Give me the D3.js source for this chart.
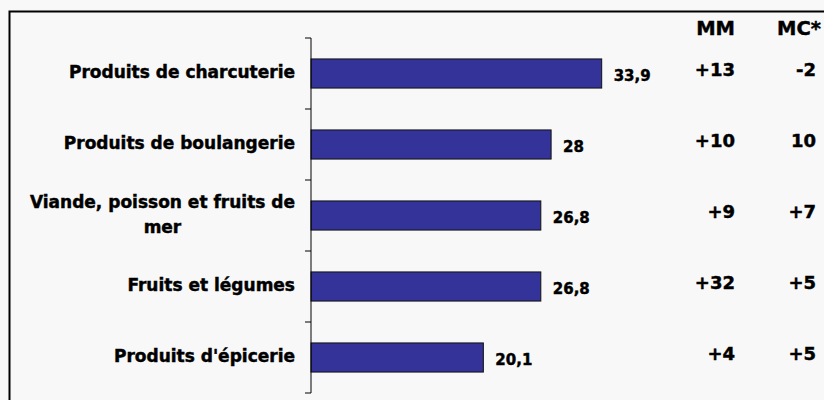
<html>
<head>
<meta charset="utf-8">
<script src="https://d3js.org/d3.v7.min.js"></script>
<style>
body { margin: 0; background: #f8f8f8; }
svg { display: block; }
text { font-family: 'DejaVu Sans', Arial, sans-serif; font-weight: bold; fill: #000; stroke: #000; stroke-width: 0.45px; }
</style>
</head>
<body>
<div id="chart"></div>
<script>
// data
var categories = ["Produits de charcuterie", "Produits de boulangerie", "Viande, poisson et fruits de|mer", "Fruits et légumes", "Produits d'épicerie"];
var values = [33.9, 28, 26.8, 26.8, 20.1];
var valueLabels = ["33,9", "28", "26,8", "26,8", "20,1"];
var mmValues = ["+13", "+10", "+9", "+32", "+4"];
var mcValues = ["-2", "10", "+7", "+5", "+5"];
var columnHeaders = ["MM", "MC*"];

var W = 824, H = 400;
var svg = d3.select("#chart").append("svg")
    .attr("width", W).attr("height", H);

svg.append("rect").attr("width", W).attr("height", H).attr("fill", "#f8f8f8");

// frame (runs off the right and bottom)
svg.append("rect")
    .attr("x", 9.5).attr("y", 11.5)
    .attr("width", W + 20).attr("height", H + 20)
    .attr("fill", "none").attr("stroke", "#000").attr("stroke-width", 2);

var x = d3.scaleLinear().domain([0, 40]).range([311, 654]);
var y = d3.scaleBand().domain(categories).range([38, 393])
    .paddingInner(0.59).paddingOuter(0.295);

// bars
svg.selectAll(".bar")
    .data(values)
  .enter().append("rect")
    .attr("class", "bar")
    .attr("x", x(0))
    .attr("y", function(d, i) { return y(categories[i]); })
    .attr("width", function(d) { return x(d) - x(0); })
    .attr("height", y.bandwidth())
    .attr("fill", "#333399")
    .attr("stroke", "#111")
    .attr("stroke-width", 1);

// axis line + ticks at band boundaries
var step = y.step();
var r0 = y.range()[0];
svg.append("line")
    .attr("x1", x(0)).attr("x2", x(0))
    .attr("y1", r0).attr("y2", y.range()[1])
    .attr("stroke", "#000").attr("stroke-width", 1);
svg.selectAll(".tick")
    .data(d3.range(categories.length + 1))
  .enter().append("line")
    .attr("x1", x(0) - 6).attr("x2", x(0))
    .attr("y1", function(i) { return r0 + i * step; })
    .attr("y2", function(i) { return r0 + i * step; })
    .attr("stroke", "#000").attr("stroke-width", 1);

// category labels
categories.forEach(function(c, i) {
  var lines = c.split("|");
  var cy = y(c) + y.bandwidth() / 2;
  var t = svg.append("text")
      .attr("font-size", "17px");
  var lineH = 25;
  var top = cy - 1 - (lines.length - 1) * lineH / 2;
  lines.forEach(function(l, j) {
    t.append("tspan").attr("y", top + j * lineH).attr("dy", "0.35em").text(l);
  });
  if (lines.length == 1) {
    t.attr("text-anchor", "end").selectAll("tspan").attr("x", 295);
  } else {
    var wmax = 0;
    t.selectAll("tspan").each(function() { wmax = Math.max(wmax, this.getComputedTextLength()); });
    t.attr("text-anchor", "middle").selectAll("tspan").attr("x", 295 - wmax / 2);
  }
});

// value labels
svg.selectAll(".val")
    .data(values)
  .enter().append("text")
    .attr("class", "val")
    .attr("font-size", "15px")
    .attr("x", function(d) { return x(d) + 12; })
    .attr("y", function(d, i) { return y(categories[i]) + y.bandwidth() / 2 + 2; })
    .attr("dy", "0.35em")
    .text(function(d, i) { return valueLabels[i]; });

// MM / MC* columns
var colX = [735, 816];
svg.append("text").attr("font-size", "19.5px").attr("text-anchor", "end")
    .attr("x", colX[0]).attr("y", 35).text(columnHeaders[0]);
svg.append("text").attr("font-size", "19.5px").attr("text-anchor", "start")
    .attr("x", 777).attr("y", 35).text(columnHeaders[1]);

[mmValues, mcValues].forEach(function(col, k) {
  svg.selectAll(".col" + k)
      .data(col)
    .enter().append("text")
      .attr("font-size", "18px")
      .attr("text-anchor", "end")
      .attr("x", colX[k])
      .attr("y", function(d, i) { return y(categories[i]) + y.bandwidth() / 2 - 4; })
      .attr("dy", "0.35em")
      .text(function(d) { return d; });
});
</script>
</body>
</html>
